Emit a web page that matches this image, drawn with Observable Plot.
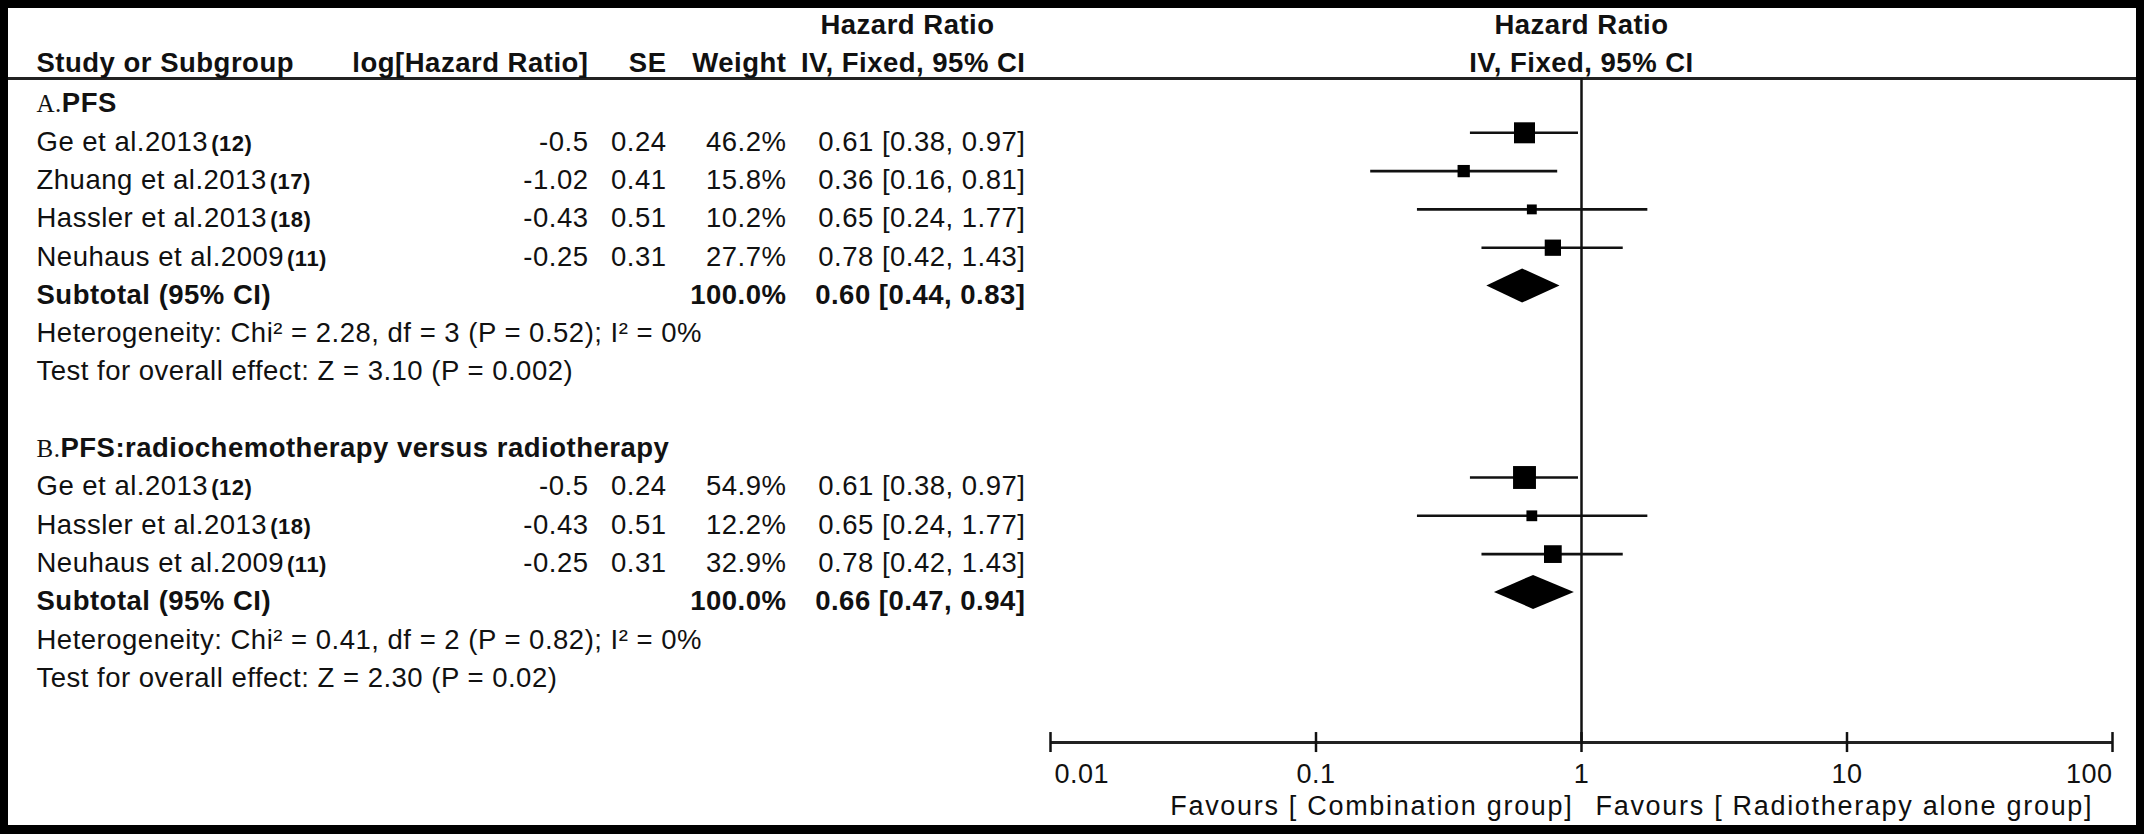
<!DOCTYPE html>
<html><head><meta charset="utf-8">
<script src="https://cdn.jsdelivr.net/npm/d3@7"></script>
<script src="https://cdn.jsdelivr.net/npm/@observablehq/plot@0.6"></script>
<style>
html,body{margin:0;padding:0;background:#000;width:2144px;height:834px;overflow:hidden}
#frame{position:absolute;left:8px;top:8px;width:2128px;height:817px;background:#fff;overflow:hidden}
svg{display:block}
</style></head><body><div id="frame"></div>
<script>
// ---------- data ----------
const groupLabels = ["A.PFS", "B.PFS:radiochemotherapy versus radiotherapy"];

const studiesA = ["Ge et al.2013", "Zhuang et al.2013", "Hassler et al.2013", "Neuhaus et al.2009"];
const refsA = ["(12)", "(17)", "(18)", "(11)"];
const logHRA = [-0.5, -1.02, -0.43, -0.25];
const seA = [0.24, 0.41, 0.51, 0.31];
const weightA = [46.2, 15.8, 10.2, 27.7];
const hrA = [0.61, 0.36, 0.65, 0.78];
const loA = [0.38, 0.16, 0.24, 0.42];
const hiA = [0.97, 0.81, 1.77, 1.43];
const totalA = [0.60, 0.44, 0.83]; // HR, lower, upper
const hetA = "Heterogeneity: Chi\u00B2 = 2.28, df = 3 (P = 0.52); I\u00B2 = 0%";
const testA = "Test for overall effect: Z = 3.10 (P = 0.002)";

const studiesB = ["Ge et al.2013", "Hassler et al.2013", "Neuhaus et al.2009"];
const refsB = ["(12)", "(18)", "(11)"];
const logHRB = [-0.5, -0.43, -0.25];
const seB = [0.24, 0.51, 0.31];
const weightB = [54.9, 12.2, 32.9];
const hrB = [0.61, 0.65, 0.78];
const loB = [0.38, 0.24, 0.42];
const hiB = [0.97, 1.77, 1.43];
const totalB = [0.66, 0.47, 0.94];
const hetB = "Heterogeneity: Chi\u00B2 = 0.41, df = 2 (P = 0.82); I\u00B2 = 0%";
const testB = "Test for overall effect: Z = 2.30 (P = 0.02)";

const tickValues = [0.01, 0.1, 1, 10, 100];
const tickLabels = ["0.01", "0.1", "1", "10", "100"];
const favoursLeft = "Favours [ Combination group]";
const favoursRight = "Favours [ Radiotherapy alone group]";

const colHeaders = ["Study or Subgroup", "log[Hazard Ratio]", "SE", "Weight", "IV, Fixed, 95% CI"];
const topHeader = "Hazard Ratio";

// ---------- layout (pixels / row units) ----------
const W = 2128, H = 817;
const FONT = "Liberation Sans, Arial, Helvetica, sans-serif";
const FS = 27.5;
const colName = 28, colLog = 580, colSE = 658, colW = 778, colCI = 1017, colHRhead = 899;
const TEXT_DY = 9;
const HEAD_LINE_ROW = -0.42, AXIS_ROW = 16.92, HEAD1_ROW = -2.04, HEAD2_ROW = -1.05;
const TICK = 10 / 38.3, DIAMOND_H = 17 / 38.3;
const NAME_FILL = "#101010", GROUP_FILL = "#121212", FAV_FILL = "#0f0f0f", ink = "#111";

// ---------- table rows ----------
function buildGroup(start, gi, names, refs, lg, se, w, hr, lo, hi, tot, het, test) {
  const studies = names.map((n, i) => ({
    row: start + 1 + i, name: n + refs[i], logHR: String(lg[i]), se: String(se[i]),
    weight: w[i], hr: hr[i], lo: lo[i], hi: hi[i]
  }));
  const sub = {row: start + 1 + names.length, hr: tot[0], lo: tot[1], hi: tot[2]};
  return {
    header: {row: start, label: groupLabels[gi]},
    studies, sub,
    het: {row: sub.row + 1, text: het},
    test: {row: sub.row + 2, text: test}
  };
}
const gA = buildGroup(0, 0, studiesA, refsA, logHRA, seA, weightA, hrA, loA, hiA, totalA, hetA, testA);
const gB = buildGroup(9, 1, studiesB, refsB, logHRB, seB, weightB, hrB, loB, hiB, totalB, hetB, testB);
const groups = [gA, gB];
const studies = groups.flatMap(g => g.studies);
const subs = groups.map(g => g.sub);
const notes = groups.flatMap(g => [g.het, g.test]);
const headersG = groups.map(g => g.header);
const diamondPts = subs.flatMap((s, i) => [
  {g: i, x: s.lo, y1: s.row, y2: s.row},
  {g: i, x: s.hr, y1: s.row - DIAMOND_H, y2: s.row + DIAMOND_H},
  {g: i, x: s.hi, y1: s.row, y2: s.row}
]);
const ciFmt = d => `${d.hr.toFixed(2)} [${d.lo.toFixed(2)}, ${d.hi.toFixed(2)}]`;

const txt = (data, o) => Plot.text(data, Object.assign({
  frameAnchor: "left", fontFamily: FONT, fontSize: FS, fill: ink, dy: TEXT_DY
}, o));

const chart = Plot.plot({
  width: W, height: H, margin: 0,
  x: {type: "log", domain: [0.01, 100], range: [1042, 2104], axis: null},
  y: {domain: [0, 15], range: [86, 660.5], axis: null},
  r: {type: "sqrt", domain: [0, 100], range: [0, 17.44]},
  style: {background: "#fff", letterSpacing: "0.5px"},
  marks: [
    // header rule
    Plot.ruleY([HEAD_LINE_ROW], {stroke: "#222", strokeWidth: 3}),
    // null effect line
    Plot.ruleX([1], {y1: () => HEAD_LINE_ROW, y2: () => AXIS_ROW, stroke: ink, strokeWidth: 2.5}),
    // axis
    Plot.ruleY([AXIS_ROW], {x1: () => 0.01, x2: () => 100, stroke: "#222", strokeWidth: 3}),
    Plot.ruleX(tickValues, {x: d => d, y1: () => AXIS_ROW - TICK, y2: () => AXIS_ROW + TICK, stroke: ink, strokeWidth: 2.5}),
    Plot.text(tickValues.slice(0, 1), {x: d => d, y: () => AXIS_ROW, dy: 32, dx: 4, text: () => tickLabels[0], textAnchor: "start", fontFamily: FONT, fontSize: 27, fill: ink}),
    Plot.text(tickValues.slice(1, 4), {x: d => d, y: () => AXIS_ROW, dy: 32, text: (d, i) => tickLabels[i + 1], textAnchor: "middle", fontFamily: FONT, fontSize: 27, fill: ink}),
    Plot.text(tickValues.slice(4), {x: d => d, y: () => AXIS_ROW, dy: 32, text: () => tickLabels[4], textAnchor: "end", fontFamily: FONT, fontSize: 27, fill: ink}),
    Plot.text([favoursLeft], {x: () => 1, y: () => AXIS_ROW, dy: 64, dx: -8, text: d => d, textAnchor: "end", fontFamily: FONT, fontSize: 27, fill: FAV_FILL}),
    Plot.text([favoursRight], {x: () => 1, y: () => AXIS_ROW, dy: 64, dx: 14, text: d => d, textAnchor: "start", fontFamily: FONT, fontSize: 27, fill: FAV_FILL}),
    // plot headers
    Plot.text([topHeader], {x: () => 1, y: () => HEAD1_ROW, dy: TEXT_DY, text: d => d, fontFamily: FONT, fontSize: FS, fontWeight: "bold", fill: ink}),
    Plot.text([colHeaders[4]], {x: () => 1, y: () => HEAD2_ROW, dy: TEXT_DY, text: d => d, fontFamily: FONT, fontSize: FS, fontWeight: "bold", fill: ink}),
    // CI lines, squares, diamonds
    Plot.link(studies, {x1: "lo", x2: "hi", y1: "row", y2: "row", stroke: ink, strokeWidth: 2.6}),
    Plot.dot(studies, {x: "hr", y: "row", r: "weight", symbol: "square", fill: "#000"}),
    Plot.area(diamondPts, {x1: "x", y1: "y1", y2: "y2", z: "g", fill: "#000"}),
    // table headers
    txt([topHeader], {y: () => HEAD1_ROW, text: d => d, dx: colHRhead, textAnchor: "middle", fontWeight: "bold"}),
    txt([colHeaders[0]], {y: () => HEAD2_ROW, text: d => d, dx: colName, textAnchor: "start", fontWeight: "bold"}),
    txt([colHeaders[1]], {y: () => HEAD2_ROW, text: d => d, dx: colLog, textAnchor: "end", fontWeight: "bold"}),
    txt([colHeaders[2]], {y: () => HEAD2_ROW, text: d => d, dx: colSE, textAnchor: "end", fontWeight: "bold"}),
    txt([colHeaders[3]], {y: () => HEAD2_ROW, text: d => d, dx: colW, textAnchor: "end", fontWeight: "bold"}),
    txt([colHeaders[4]], {y: () => HEAD2_ROW, text: d => d, dx: colCI, textAnchor: "end", fontWeight: "bold"}),
    // group headers
    txt(headersG, {y: "row", text: "label", dx: colName, textAnchor: "start", fontWeight: "bold", fill: GROUP_FILL}),
    // study rows
    txt(studies, {y: "row", text: "name", dx: colName, textAnchor: "start", fill: NAME_FILL}),
    txt(studies, {y: "row", text: "logHR", dx: colLog, textAnchor: "end"}),
    txt(studies, {y: "row", text: "se", dx: colSE, textAnchor: "end"}),
    txt(studies, {y: "row", text: d => d.weight.toFixed(1) + "%", dx: colW, textAnchor: "end"}),
    txt(studies, {y: "row", text: ciFmt, dx: colCI, textAnchor: "end"}),
    // subtotals
    txt(subs, {y: "row", text: () => "Subtotal (95% CI)", dx: colName, textAnchor: "start", fontWeight: "bold"}),
    txt(subs, {y: "row", text: () => "100.0%", dx: colW, textAnchor: "end", fontWeight: "bold"}),
    txt(subs, {y: "row", text: ciFmt, dx: colCI, textAnchor: "end", fontWeight: "bold"}),
    // notes
    txt(notes, {y: "row", text: "text", dx: colName, textAnchor: "start"})
  ]
});
document.getElementById("frame").appendChild(chart);

// mixed styling: smaller bold reference numbers, serif group letters, spaced favours labels
const NS = "http://www.w3.org/2000/svg";
chart.querySelectorAll(`g[fill="${NAME_FILL}"] text`).forEach(t => {
  const s = t.textContent, k = s.indexOf("(");
  t.textContent = "";
  const a = document.createElementNS(NS, "tspan"); a.textContent = s.slice(0, k);
  const b = document.createElementNS(NS, "tspan"); b.textContent = s.slice(k);
  b.setAttribute("font-size", "22"); b.setAttribute("font-weight", "bold"); b.setAttribute("dx", "3");
  t.append(a, b);
});
chart.querySelectorAll(`g[fill="${GROUP_FILL}"] text`).forEach(t => {
  const s = t.textContent, k = s.indexOf(".") + 1;
  t.textContent = "";
  const a = document.createElementNS(NS, "tspan"); a.textContent = s.slice(0, k);
  a.setAttribute("font-family", "Liberation Serif, Times New Roman, serif");
  a.setAttribute("font-weight", "normal"); a.setAttribute("font-size", "25");
  const b = document.createElementNS(NS, "tspan"); b.textContent = s.slice(k);
  t.append(a, b);
});
chart.querySelectorAll(`g[fill="${FAV_FILL}"]`).forEach(g => g.style.letterSpacing = "1.7px");
</script></body></html>
